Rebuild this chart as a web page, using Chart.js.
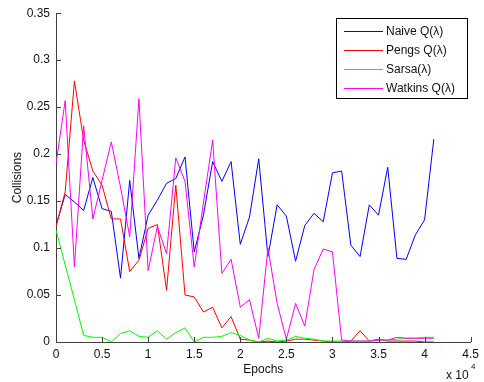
<!DOCTYPE html>
<html>
<head>
<meta charset="utf-8">
<script src="https://cdn.jsdelivr.net/npm/chart.js@4.4.0/dist/chart.umd.min.js"></script>
<style>
  html, body { margin: 0; padding: 0; background: #fff; }
</style>
</head>
<body>
<canvas id="chart" width="484" height="382"></canvas>
<script>
// epochs in units of 10^4
const epochs = [0, 0.1, 0.2, 0.3, 0.4, 0.5, 0.6, 0.7, 0.8, 0.9,
                1.0, 1.1, 1.2, 1.3, 1.4, 1.5, 1.6, 1.7, 1.8, 1.9,
                2.0, 2.1, 2.2, 2.3, 2.4, 2.5, 2.6, 2.7, 2.8, 2.9,
                3.0, 3.1, 3.2, 3.3, 3.4, 3.5, 3.6, 3.7, 3.8, 3.9,
                4.0, 4.1];

const naiveQ = [0.124, 0.157, 0.149, 0.140, 0.175, 0.142, 0.139, 0.068, 0.172, 0.089,
                0.135, 0.151, 0.169, 0.174, 0.197, 0.096, 0.135, 0.192, 0.171, 0.192,
                0.104, 0.133, 0.195, 0.091, 0.146, 0.134, 0.086, 0.124, 0.137, 0.128,
                0.180, 0.182, 0.103, 0.091, 0.146, 0.135, 0.186, 0.089, 0.088, 0.114,
                0.130, 0.216];

const pengsQ = [0.123, 0.160, 0.278, 0.215, 0.182, 0.167, 0.131, 0.131, 0.075, 0.087,
                0.121, 0.125, 0.055, 0.167, 0.050, 0.048, 0.032, 0.037, 0.015, 0.027,
                0.003, 0.002, 0.000, 0.001, 0.000, 0.001, 0.003, 0.003, 0.002, 0.001,
                0.000, 0.000, 0.001, 0.012, 0.001, 0.003, 0.001, 0.001, 0.001, 0.001,
                0.000, 0.000];

const sarsa = [0.119, 0.082, 0.045, 0.007, 0.005, 0.005, 0.000, 0.009, 0.012, 0.006,
               0.005, 0.012, 0.003, 0.010, 0.015, 0.000, 0.005, 0.005, 0.006, 0.010,
               0.007, 0.002, 0.000, 0.004, 0.001, 0.002, 0.006, 0.004, 0.003, 0.001,
               0.001, 0.001, 0.001, 0.001, 0.001, 0.002, 0.002, 0.003, 0.004, 0.004,
               0.005, 0.005];

const watkinsQ = [0.190, 0.257, 0.080, 0.230, 0.131, 0.172, 0.213, 0.165, 0.112, 0.259,
                  0.076, 0.123, 0.094, 0.196, 0.171, 0.080, 0.148, 0.215, 0.073, 0.088,
                  0.037, 0.045, 0.004, 0.100, 0.041, 0.003, 0.041, 0.017, 0.077, 0.099,
                  0.096, 0.002, 0.001, 0.001, 0.001, 0.002, 0.002, 0.005, 0.004, 0.004,
                  0.004, 0.004];

const seriesNames = ['Naive Q(\u03bb)', 'Pengs Q(\u03bb)', 'Sarsa(\u03bb)', 'Watkins Q(\u03bb)'];
const seriesColors = ['#0000ff', '#ff0000', '#00ff00', '#ff00ff'];

const xTickLabels = ['0', '0.5', '1', '1.5', '2', '2.5', '3', '3.5', '4', '4.5'];
const yTickLabels = ['0', '0.05', '0.1', '0.15', '0.2', '0.25', '0.3', '0.35'];

const axisColor = '#404040';
Chart.defaults.font.family = '"Liberation Sans", Arial, Helvetica, sans-serif';
Chart.defaults.font.size = 12;
Chart.defaults.color = '#111';

const toPoints = vals => vals.map((v, i) => ({ x: epochs[i], y: v }));

// MATLAB style: ticks pointing inward, floating legend box, exponent label
const matlabLook = {
    id: 'matlabLook',
    afterDraw(chart) {
        const { ctx, chartArea: a, scales: { x, y } } = chart;
        ctx.save();
        ctx.strokeStyle = axisColor;
        ctx.lineWidth = 1;
        ctx.beginPath();
        x.ticks.forEach(t => {
            const px = Math.round(x.getPixelForValue(t.value)) + 0.5;
            ctx.moveTo(px, a.bottom);
            ctx.lineTo(px, a.bottom - 5);
        });
        y.ticks.forEach(t => {
            const py = Math.round(y.getPixelForValue(t.value)) + 0.5;
            ctx.moveTo(a.left, py);
            ctx.lineTo(a.left + 5, py);
        });
        ctx.stroke();

        // x 10^4
        ctx.fillStyle = '#111';
        ctx.textBaseline = 'alphabetic';
        ctx.textAlign = 'left';
        ctx.font = '12px "Liberation Sans", Arial, sans-serif';
        ctx.fillText('x 10', 446, 379);
        ctx.font = '8px "Liberation Sans", Arial, sans-serif';
        ctx.fillText('4', 471, 369);

        // legend
        const lx = 336.5, ly = 18.5, lw = 131, lh = 80;
        ctx.fillStyle = '#fff';
        ctx.fillRect(lx, ly, lw, lh);
        ctx.strokeStyle = '#000';
        ctx.strokeRect(lx, ly, lw, lh);
        ctx.font = '12px "Liberation Sans", Arial, sans-serif';
        ctx.textBaseline = 'middle';
        chart.data.datasets.forEach((ds, i) => {
            const ry = Math.round(ly + 12 + i * 19.3) + 0.5;
            ctx.strokeStyle = ds.borderColor;
            ctx.beginPath();
            ctx.moveTo(344, ry);
            ctx.lineTo(383, ry);
            ctx.stroke();
            ctx.fillStyle = '#111';
            ctx.fillText(ds.label, 386, ry);
        });
        ctx.restore();
    }
};

const datasets = [naiveQ, pengsQ, sarsa, watkinsQ].map((vals, i) => ({
    label: seriesNames[i],
    data: toPoints(vals),
    borderColor: seriesColors[i],
    backgroundColor: seriesColors[i],
    borderWidth: 1,
    pointRadius: 0,
    tension: 0,
    fill: false,
    order: 4 - i
}));

new Chart(document.getElementById('chart').getContext('2d'), {
    type: 'line',
    data: { datasets },
    options: {
        responsive: false,
        animation: false,
        layout: { padding: { top: 11, right: 7, left: 0, bottom: 0 } },
        plugins: {
            legend: { display: false },
            tooltip: { enabled: false }
        },
        scales: {
            x: {
                type: 'linear',
                min: 0,
                max: 4.5,
                ticks: {
                    stepSize: 0.5,
                    padding: 5,
                    maxRotation: 0,
                    callback: (v, i) => xTickLabels[i]
                },
                grid: { display: false, drawTicks: false },
                border: { display: true, color: axisColor },
                title: { display: true, text: 'Epochs', padding: { top: 0, bottom: 5 } },
                afterFit: s => { s.height = 40; }
            },
            y: {
                type: 'linear',
                min: 0,
                max: 0.35,
                ticks: {
                    stepSize: 0.05,
                    padding: 6,
                    callback: (v, i) => yTickLabels[i]
                },
                grid: { display: false, drawTicks: false },
                border: { display: true, color: axisColor },
                title: { display: true, text: 'Collisions', padding: { top: 10, bottom: 0 } },
                afterFit: s => { s.width = 56; }
            }
        }
    },
    plugins: [matlabLook]
});
</script>
</body>
</html>
